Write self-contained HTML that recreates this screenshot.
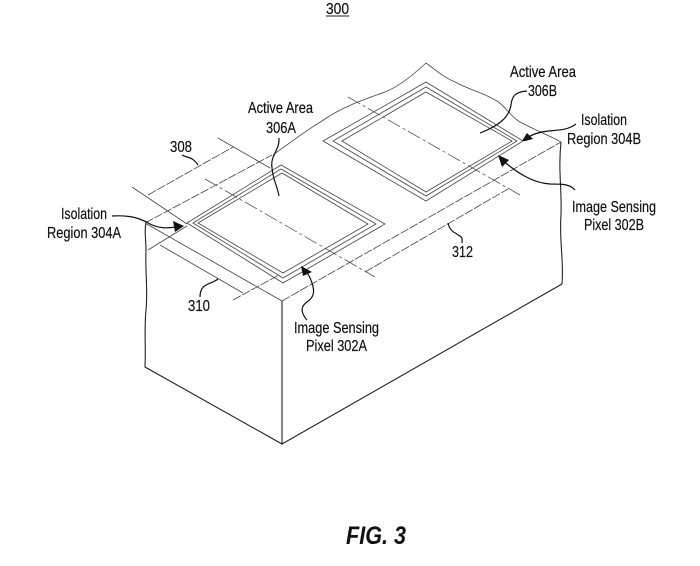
<!DOCTYPE html>
<html>
<head>
<meta charset="utf-8">
<style>
html,body{margin:0;padding:0;background:#fff;width:700px;height:566px;overflow:hidden}
svg{display:block}
text{font-family:"Liberation Sans",sans-serif;font-size:16px;fill:#111;stroke:#111;stroke-width:.2}
.b{fill:none;stroke:#222;stroke-width:1.1}
.t{fill:none;stroke:#444;stroke-width:.8}
.d{fill:none;stroke:#444;stroke-width:.8;stroke-dasharray:9 1.5}
.c{fill:none;stroke:#555;stroke-width:.8;stroke-dasharray:14 3 3 3}
.l{fill:none;stroke:#111;stroke-width:1.2}
.a{fill:#111;stroke:none}
</style>
</head>
<body>
<svg width="700" height="566" viewBox="0 0 700 566" xmlns="http://www.w3.org/2000/svg">
<rect width="700" height="566" fill="#fff"/>

<!-- block -->
<path class="b" d="M282 301V444L145 367C146 345 144 330 146 310C148 290 145 270 146 250C146 238 144 232 146 223"/>
<path class="b" d="M282 444L562 284C564 260 559 240 561 215C562 190 558 170 561 142"/>

<!-- top surface edges -->
<path class="t" d="M145 223L282 301"/>
<path class="d" d="M282 301L561 142"/>
<path class="d" d="M145 223L272 155"/>
<path class="t" d="M273 155C290 143 305 131 322 121C340 108 362 100 385 92C398 87 412 76 426 63C436 70 443 77 455 82C470 90 484 93 497 101C507 108 510 116 520 122C535 130 548 135 561 142"/>

<!-- dimension lines -->
<path class="t" d="M132 187L187 224"/>
<path class="t" d="M218 138L270 168"/>
<path class="d" d="M148 195L233 147"/>
<path class="t" d="M148 250L187 226"/>
<path class="t" d="M160 245L243 293"/>
<path class="d" d="M233 300L279 275"/>
<path class="d" d="M365 272L508 189"/>

<!-- center lines -->
<path class="c" d="M205 179L375 277"/>
<path class="c" d="M348 97L520 195"/>

<!-- pixel A -->
<path class="t" d="M187 223L281 165L385 224L283 283Z"/>
<path class="t" d="M193 223L281 169L376 224L283 278Z"/>
<path class="t" d="M198 223L282 173L368 224L283 273Z"/>

<!-- pixel B -->
<path class="t" d="M323 141L426 82L523 141L426 201Z"/>
<path class="t" d="M333 141L426 87L517 141L426 196Z"/>
<path class="t" d="M342 141L426 92L512 141L426 192Z"/>

<!-- leaders -->
<path class="l" d="M112 216C130 215 140 218 150 224C160 229 168 228 176 227"/>
<path class="a" d="M184 226L173 221L175 232Z"/>
<path class="l" d="M279 138C280 150 270 155 272 168C273 180 277 185 279 196"/>
<path class="l" d="M307 320C300 312 301 306 307 302C314 297 315 292 312 283C310 276 307 272 303 268"/>
<path class="a" d="M301 266L312 272L303 276Z"/>
<path class="l" d="M527 91C515 92 512 96 511 105C509 118 498 126 480 133"/>
<path class="l" d="M576 124C568 130 560 130 548 131C538 132 532 135 526 138"/>
<path class="a" d="M522 141L527 133L533 139L525 141Z"/>
<path class="l" d="M575 190C570 184 562 184 550 184C532 183 516 172 501 159"/>
<path class="a" d="M498 155L509 160L502 167Z"/>
<path class="l" d="M448 223C450 232 456 233 460 236C463 238 462 241 462 243"/>
<path class="l" d="M218 279C210 285 200 283 200 297"/>
<path class="l" d="M182 155C187 158 192 156 198 165"/>

<!-- labels -->
<text x="326" y="14" textLength="23" lengthAdjust="spacingAndGlyphs">300</text>
<path d="M326 16H349" stroke="#222" stroke-width="1"/>
<text x="248" y="113" textLength="65" lengthAdjust="spacingAndGlyphs">Active Area</text>
<text x="266" y="133" textLength="30" lengthAdjust="spacingAndGlyphs">306A</text>
<text x="170" y="152" textLength="22" lengthAdjust="spacingAndGlyphs">308</text>
<text x="61" y="219" textLength="46" lengthAdjust="spacingAndGlyphs">Isolation</text>
<text x="47" y="238" textLength="74" lengthAdjust="spacingAndGlyphs">Region 304A</text>
<text x="188" y="311" textLength="22" lengthAdjust="spacingAndGlyphs">310</text>
<text x="294" y="333" textLength="85" lengthAdjust="spacingAndGlyphs">Image Sensing</text>
<text x="306" y="351" textLength="61" lengthAdjust="spacingAndGlyphs">Pixel 302A</text>
<text x="510" y="77" textLength="66" lengthAdjust="spacingAndGlyphs">Active Area</text>
<text x="528" y="96" textLength="29" lengthAdjust="spacingAndGlyphs">306B</text>
<text x="581" y="125" textLength="46" lengthAdjust="spacingAndGlyphs">Isolation</text>
<text x="567" y="144" textLength="74" lengthAdjust="spacingAndGlyphs">Region 304B</text>
<text x="572" y="212" textLength="84" lengthAdjust="spacingAndGlyphs">Image Sensing</text>
<text x="584" y="230" textLength="60" lengthAdjust="spacingAndGlyphs">Pixel 302B</text>
<text x="452" y="257" textLength="21" lengthAdjust="spacingAndGlyphs">312</text>
<text x="346" y="544" textLength="60" lengthAdjust="spacingAndGlyphs" style="font-size:25px;font-weight:bold;font-style:italic;stroke-width:0">FIG. 3</text>
</svg>
</body>
</html>
